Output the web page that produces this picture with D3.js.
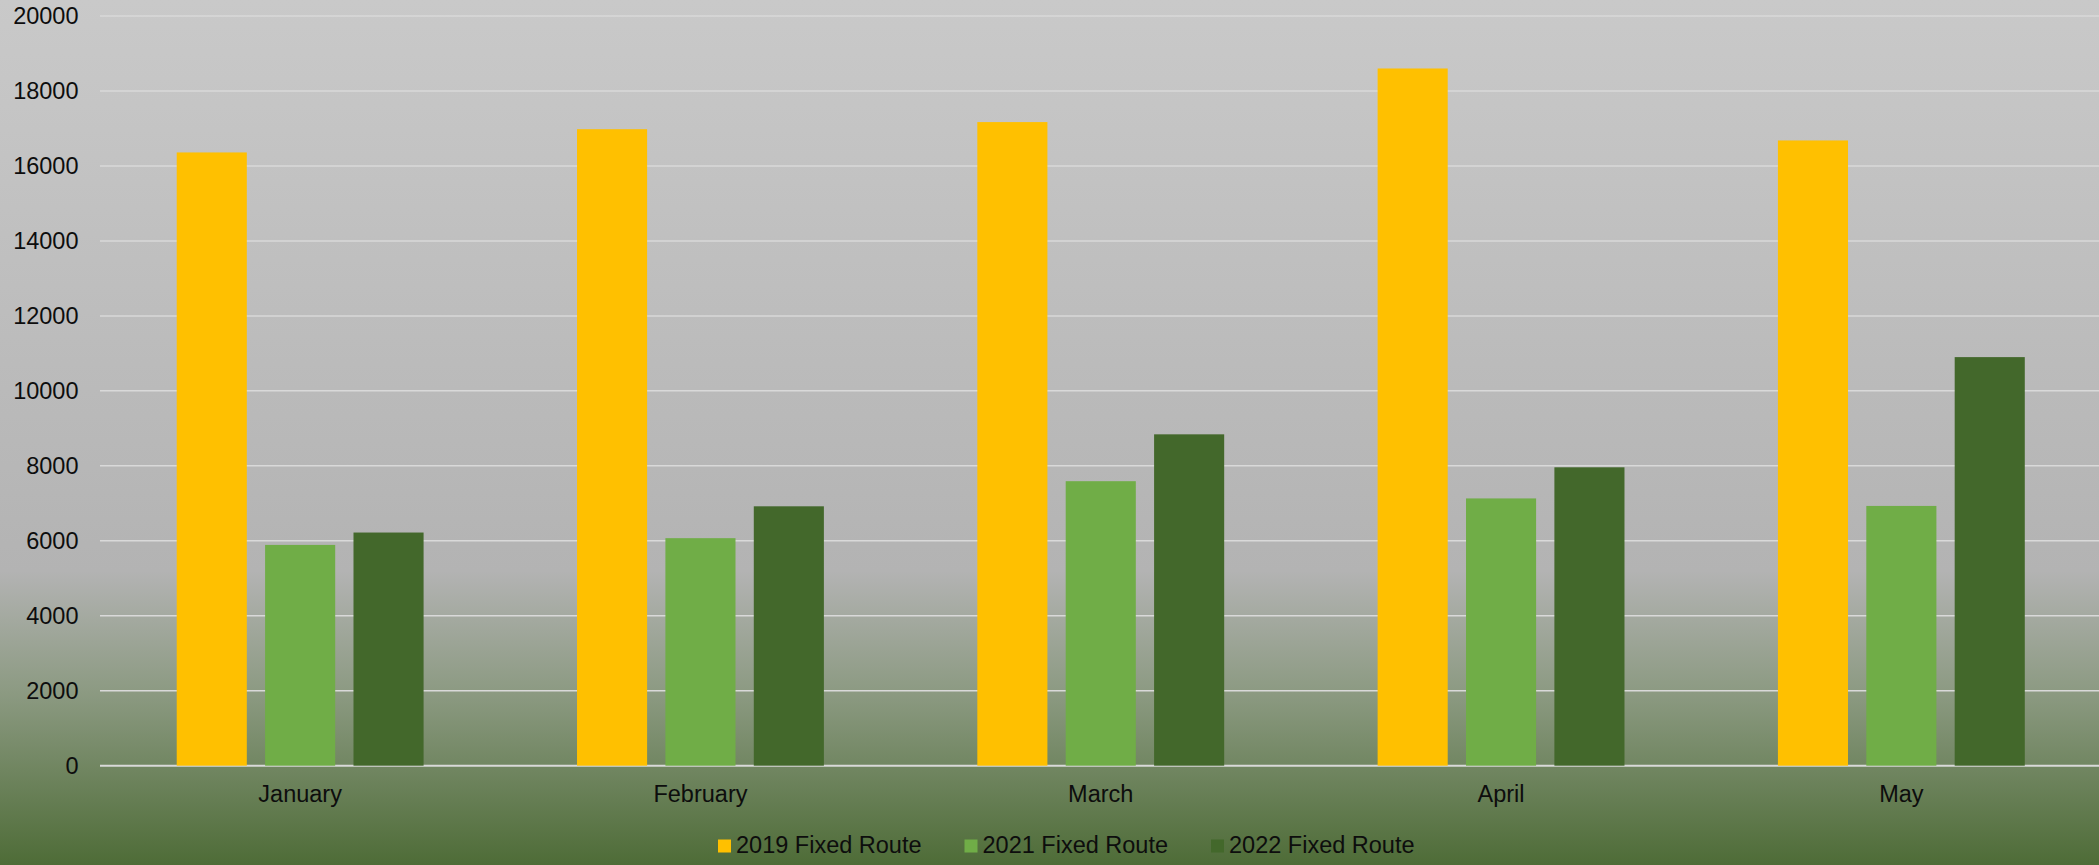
<!DOCTYPE html>
<html>
<head>
  <meta charset="UTF-8">
  <style>
    html, body { margin: 0; padding: 0; overflow: hidden; }
    svg { display: block; }
    text { font-family: 'Liberation Sans', Arial, sans-serif; fill: #0d0d0d; }
  </style>
</head>
<body>
<svg></svg>
<script src="https://d3js.org/d3.v7.min.js"></script>
<script>
// ---- data
const months = ["January", "February", "March", "April", "May"];
const seriesNames = ["2019 Fixed Route", "2021 Fixed Route", "2022 Fixed Route"];
const values2019 = [16360, 16980, 17170, 18600, 16680];
const values2021 = [5890, 6070, 7590, 7130, 6930];
const values2022 = [6220, 6920, 8840, 7960, 10900];
const yTicks = [0, 2000, 4000, 6000, 8000, 10000, 12000, 14000, 16000, 18000, 20000];
const colors = ["#ffc000", "#70ad47", "#43682b"];

const allSeries = [values2019, values2021, values2022];

let width = 2099, height = 865;
let svg = d3.select("svg").attr("width", width).attr("height", height);

// background gradient, grey to green
let grad = svg.append("defs").append("linearGradient")
    .attr("id", "bg").attr("x1", 0).attr("y1", 0).attr("x2", 0).attr("y2", 1);
grad.append("stop").attr("offset", "0%").attr("stop-color", "#c9c9c9");
grad.append("stop").attr("offset", "66%").attr("stop-color", "#b3b3b3");
grad.append("stop").attr("offset", "80%").attr("stop-color", "#8c9a82");
grad.append("stop").attr("offset", "100%").attr("stop-color", "#4e6c37");
svg.append("rect").attr("width", width).attr("height", height).attr("fill", "url(#bg)");

// scales
let x = d3.scaleBand().domain(months).range([100, 2101.5]);
let xs = d3.scaleBand().domain(d3.range(3)).range([0, x.bandwidth()])
    .paddingInner(0.207).paddingOuter(0.868);
let y = d3.scaleLinear().domain([0, 20000]).range([765.7, 16]);

// gridlines
svg.append("g").selectAll("line")
    .data(yTicks)
    .enter().append("line")
    .attr("x1", 100).attr("x2", width)
    .attr("y1", d => y(d)).attr("y2", d => y(d))
    .attr("stroke", "#d9d9d9")
    .attr("stroke-width", d => d === 0 ? 2 : 1.5);

// y labels
svg.append("g").selectAll("text")
    .data(yTicks)
    .enter().append("text")
    .attr("x", 78.5).attr("y", d => y(d))
    .attr("dy", "0.35em")
    .attr("text-anchor", "end")
    .style("font-size", "23.5px")
    .text(d => d);

// bars
allSeries.forEach((vals, s) => {
  svg.append("g").selectAll("rect")
      .data(vals)
      .enter().append("rect")
      .attr("x", (d, i) => x(months[i]) + xs(s))
      .attr("width", xs.bandwidth())
      .attr("y", d => y(d))
      .attr("height", d => y(0) - y(d))
      .attr("fill", colors[s]);
});

// month labels
svg.append("g").selectAll("text")
    .data(months)
    .enter().append("text")
    .attr("x", d => x(d) + x.bandwidth() / 2)
    .attr("y", 802)
    .attr("text-anchor", "middle")
    .style("font-size", "23.5px")
    .text(d => d);

// legend
let legend = svg.append("g").selectAll("g")
    .data(seriesNames)
    .enter().append("g")
    .attr("transform", (d, i) => "translate(" + (718 + i * 246.5) + ",0)");
legend.append("rect")
    .attr("x", 0).attr("y", 839.5).attr("width", 13).attr("height", 13)
    .attr("fill", (d, i) => colors[i]);
legend.append("text")
    .attr("x", 18).attr("y", 853)
    .style("font-size", "23.5px")
    .text(d => d);
</script>
</body>
</html>
